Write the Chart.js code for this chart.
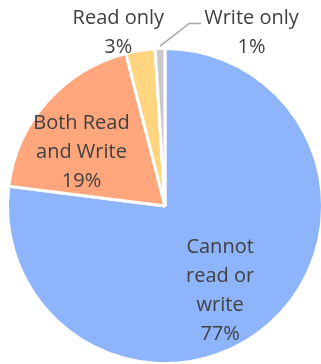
<!DOCTYPE html>
<html>
<head>
<meta charset="utf-8">
<script src="https://cdn.jsdelivr.net/npm/chart.js@4/dist/chart.umd.min.js"></script>
<style>
  html, body { margin: 0; padding: 0; background: #fff; overflow: hidden; }
  #wrap { position: relative; width: 321px; height: 364px; overflow: hidden; }
  #c { position: absolute; left: 0; top: 0; }
</style>
</head>
<body>
<div id="wrap"><canvas id="c" width="340" height="370"></canvas></div>
<script>
  "use strict";

  // данные
  const categories = [
    ["Cannot", "read or", "write"],
    ["Both Read", "and Write"],
    ["Read only"],
    ["Write only"],
  ];
  const shares = [77, 19, 3, 1];
  const sliceColors = ["#8eb4fc", "#ffa67d", "#ffd580", "#c9c9c9"];

  // положение подписей: угол от 12 часов (по часовой) и доля радиуса
  const labelPolar = [
    { a: 146.5, r: 0.64 },
    { a: 303.2, r: 0.64 },
    { a: 345.0, r: 1.156 },
    { a: 26.4, r: 1.247 },
  ];
  const LINE_H = 29;
  const CAP_HALF = 7;
  const FONT = "20px 'Open Sans', sans-serif";

  const labelsPlugin = {
    id: "pieLabels",
    afterDatasetsDraw(chart) {
      const ctx = chart.ctx;
      const meta = chart.getDatasetMeta(0);
      const arc0 = meta.data[0];
      const cx = arc0.x, cy = arc0.y;
      const R = arc0.outerRadius - 1.5;
      ctx.save();
      ctx.font = FONT;
      ctx.fillStyle = "#404040";
      ctx.textAlign = "center";
      ctx.textBaseline = "alphabetic";
      for (let i = 0; i < shares.length; i++) {
        const p = labelPolar[i];
        const ang = (p.a - 90) * Math.PI / 180;
        const lx = cx + Math.cos(ang) * R * p.r;
        const ly = cy + Math.sin(ang) * R * p.r;
        const lines = categories[i].concat([shares[i] + "%"]);
        const n = lines.length;
        lines.forEach(function (t, k) {
          ctx.fillText(t, lx, ly + CAP_HALF + (k - (n - 1) / 2) * LINE_H);
        });

        // выноска для самого маленького сектора
        if (i === shares.length - 1) {
          const arc = meta.data[i];
          const mid = (arc.startAngle + arc.endAngle) / 2;
          const sx = cx + Math.cos(mid) * (R + 4);
          const sy = cy + Math.sin(mid) * (R + 4);
          const half = Math.max.apply(null, lines.map(function (t) { return ctx.measureText(t).width; })) / 2;
          const ex = lx - half - 3;
          const ey = ly - 8.3;
          ctx.strokeStyle = "#a6a6a6";
          ctx.lineWidth = 1.5;
          ctx.beginPath();
          ctx.moveTo(sx, sy);
          ctx.lineTo(ex - 12, ey);
          ctx.lineTo(ex, ey);
          ctx.stroke();
        }
      }
      ctx.restore();
    },
  };

  new Chart(document.getElementById("c"), {
    type: "pie",
    data: {
      labels: categories.map(function (l) { return l.join(" "); }),
      datasets: [{
        data: shares,
        backgroundColor: sliceColors,
        borderColor: "#ffffff",
        borderWidth: 3,
      }],
    },
    options: {
      responsive: false,
      animation: false,
      layout: { padding: { left: 6, top: 47, right: 16, bottom: 5 } },
      plugins: {
        legend: { display: false },
        tooltip: { enabled: false },
      },
    },
    plugins: [labelsPlugin],
  });
</script>
</body>
</html>
